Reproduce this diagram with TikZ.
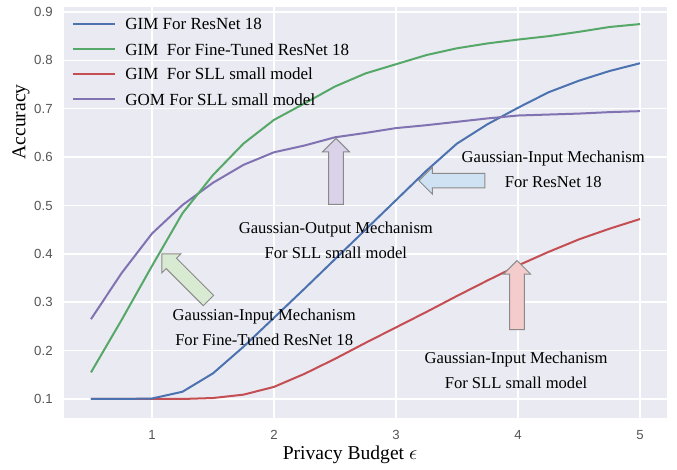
\documentclass[tikz,border=0pt]{standalone}
\usepackage{fontspec}
\setmainfont{Liberation Serif}
\setsansfont{Liberation Sans}
\usetikzlibrary{arrows.meta, positioning, shapes.arrows}

\definecolor{panel}{HTML}{EAEAF2}
\definecolor{gimblue}{HTML}{4C72B0}
\definecolor{gimgreen}{HTML}{55A868}
\definecolor{gimred}{HTML}{C44E52}
\definecolor{gompurple}{HTML}{8172B2}
\definecolor{tickgray}{HTML}{555555}
\definecolor{arrowgray}{HTML}{8A8A8A}
\definecolor{fillgreen}{HTML}{D9EAD3}
\definecolor{fillpurple}{HTML}{D9D2E9}
\definecolor{fillblue}{HTML}{CFE2F3}
\definecolor{fillred}{HTML}{F4CCCC}

\begin{document}
\begin{tikzpicture}[x=61pt, y=241.875pt,
		curve/.style={line width=1pt, line join=round},
		gridline/.style={white, line width=0.75pt},
		ticklabel/.style={font=\sffamily\fontsize{6.6}{8}\selectfont, text=tickgray, inner sep=0pt},
		note/.style={align=center, font=\fontsize{8.3}{12.5}\selectfont, inner sep=0pt},
		legendtext/.style={anchor=west, font=\fontsize{8.5}{10}\selectfont, inner sep=0pt},
		blockarrow/.style={single arrow, draw=arrowgray, line width=0.5pt, minimum width=0pt,
			inner xsep=0pt, inner ysep=3.4pt, single arrow head extend=3.1pt, minimum height=33pt}]
		\useasboundingbox (-0.2459,-0.04677) rectangle (5.3033,0.92481);
		\fill[white] (-0.2459,-0.04677) rectangle (5.3033,0.92481);
		
		% Define axes panel and grid
		\fill[panel] (0.275,0.0614) rectangle (5.225,0.9106);
		\foreach \x in {1,...,5} {
			\draw[gridline] (\x,0.0614) -- (\x,0.9106);
			\node[ticklabel] (xt\x) at (\x,0.0256) {\x};
		}
		\foreach \y in {0.1,0.2,0.3,0.4,0.5,0.6,0.7,0.8,0.9} {
			\draw[gridline] (0.275,\y) -- (5.225,\y);
			\node[ticklabel, anchor=east] (yt\y) at (0.1885,\y) {\y};
		}
		
		\node[font=\fontsize{9.8}{12}\selectfont] (xlabel) at (2.623,-0.0158) {Privacy Budget $\epsilon$};
		\node[font=\fontsize{9.8}{12}\selectfont, rotate=90] (ylabel) at (-0.0738,0.6726) {Accuracy};
		
		% Draw curves
		\draw[curve, gimred] plot coordinates {(0.5,0.100) (0.75,0.100) (1,0.100) (1.25,0.100)
			(1.5,0.102) (1.75,0.109) (2,0.125) (2.25,0.152) (2.5,0.183) (2.75,0.216) (3,0.248)
			(3.25,0.280) (3.5,0.313) (3.75,0.345) (4,0.376) (4.25,0.404) (4.5,0.430) (4.75,0.452) (5,0.472)};
		\draw[curve, gimblue] plot coordinates {(0.5,0.100) (0.75,0.100) (1,0.101) (1.25,0.115)
			(1.5,0.153) (1.75,0.208) (2,0.268) (2.25,0.328) (2.5,0.389) (2.75,0.450) (3,0.511)
			(3.25,0.572) (3.5,0.628) (3.75,0.668) (4,0.702) (4.25,0.734) (4.5,0.758) (4.75,0.778) (5,0.794)};
		\draw[curve, gompurple] plot coordinates {(0.5,0.265) (0.75,0.360) (1,0.442) (1.25,0.501)
			(1.5,0.547) (1.75,0.584) (2,0.610) (2.25,0.624) (2.5,0.641) (2.75,0.650) (3,0.660)
			(3.25,0.666) (3.5,0.673) (3.75,0.680) (4,0.686) (4.25,0.688) (4.5,0.690) (4.75,0.693) (5,0.695)};
		\draw[curve, gimgreen] plot coordinates {(0.5,0.155) (0.75,0.263) (1,0.375) (1.25,0.484)
			(1.5,0.563) (1.75,0.628) (2,0.677) (2.25,0.711) (2.5,0.746) (2.75,0.773) (3,0.792)
			(3.25,0.811) (3.5,0.825) (3.75,0.835) (4,0.843) (4.25,0.850) (4.5,0.859) (4.75,0.869) (5,0.875)};
		
		% Define legend
		\coordinate (l1a) at (0.355,0.8746); \coordinate (l1b) at (0.697,0.8746);
		\coordinate (l2a) at (0.355,0.8229); \coordinate (l2b) at (0.697,0.8229);
		\coordinate (l3a) at (0.355,0.7718); \coordinate (l3b) at (0.697,0.7718);
		\coordinate (l4a) at (0.355,0.7195); \coordinate (l4b) at (0.697,0.7195);
		\draw[curve, gimblue] (l1a) -- (l1b);
		\draw[curve, gimgreen] (l2a) -- (l2b);
		\draw[curve, gimred] (l3a) -- (l3b);
		\draw[curve, gompurple] (l4a) -- (l4b);
		\node[legendtext] (leg1) at (0.779,0.8746) {GIM For ResNet 18};
		\node[legendtext] (leg2) at (0.779,0.8229) {GIM\ \ For Fine-Tuned ResNet 18};
		\node[legendtext] (leg3) at (0.779,0.7718) {GIM\ \ For SLL small model};
		\node[legendtext] (leg4) at (0.779,0.7195) {GOM For SLL small model};
		
		% Define notes and their arrows
		\node[note] (gomnote) at (2.507,0.4277) {Gaussian-Output Mechanism\\For SLL small model};
		\node[note] (resnote) at (4.289,0.5744) {Gaussian-Input Mechanism\\For ResNet 18};
		\node[note] (finenote) at (1.9195,0.2472) {Gaussian-Input Mechanism\\For Fine-Tuned ResNet 18};
		\node[note] (sllnote) at (3.984,0.1600) {Gaussian-Input Mechanism\\For SLL small model};
		
		\node[blockarrow, fill=fillpurple, rotate=90] (gomarrow) at (2.508,0.563) {};
		\node[blockarrow, fill=fillblue, rotate=180] (resarrow) at (3.488,0.5513) {};
		\node[blockarrow, fill=fillgreen, rotate=135] (finearrow) at (1.2926,0.3464) {};
		\node[blockarrow, fill=fillred, rotate=90, minimum height=34.5pt] (sllarrow) at (3.992,0.3073) {};
	\end{tikzpicture}
\end{document}
